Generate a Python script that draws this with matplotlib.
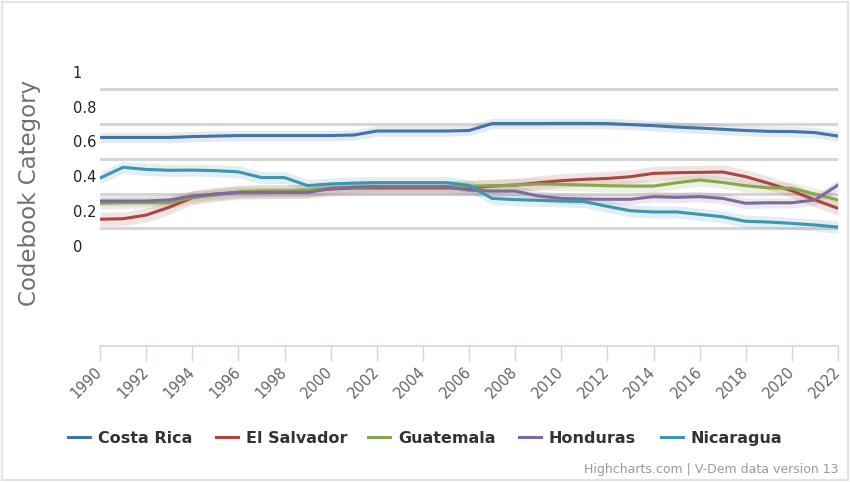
import matplotlib
matplotlib.use('Agg')
import matplotlib.pyplot as plt
import matplotlib.transforms as mtransforms
from matplotlib.patches import Rectangle
from matplotlib.lines import Line2D
import numpy as np

years = list(range(1990, 2023))

costa_rica = [0.723, 0.723, 0.723, 0.723, 0.728, 0.731, 0.734, 0.734, 0.734, 0.734,
              0.734, 0.737, 0.760, 0.760, 0.760, 0.760, 0.763, 0.803, 0.803, 0.803,
              0.804, 0.804, 0.803, 0.797, 0.791, 0.783, 0.777, 0.770, 0.763, 0.758,
              0.757, 0.751, 0.731]
el_salvador = [0.252, 0.255, 0.276, 0.321, 0.376, 0.397, 0.407, 0.410, 0.410, 0.414,
               0.426, 0.432, 0.432, 0.432, 0.432, 0.432, 0.432, 0.443, 0.449, 0.462,
               0.474, 0.482, 0.487, 0.497, 0.516, 0.520, 0.522, 0.524, 0.497, 0.459,
               0.416, 0.363, 0.315]
guatemala = [0.344, 0.347, 0.347, 0.347, 0.378, 0.391, 0.410, 0.416, 0.416, 0.420,
             0.432, 0.435, 0.439, 0.439, 0.439, 0.439, 0.443, 0.445, 0.449, 0.455,
             0.453, 0.449, 0.445, 0.443, 0.443, 0.462, 0.478, 0.464, 0.445, 0.433,
             0.430, 0.397, 0.363]
honduras = [0.357, 0.357, 0.357, 0.363, 0.386, 0.397, 0.405, 0.405, 0.406, 0.406,
            0.429, 0.437, 0.439, 0.439, 0.439, 0.439, 0.420, 0.414, 0.414, 0.386,
            0.372, 0.368, 0.367, 0.367, 0.382, 0.378, 0.382, 0.372, 0.344, 0.347,
            0.347, 0.363, 0.449]
nicaragua = [0.489, 0.551, 0.539, 0.534, 0.535, 0.532, 0.525, 0.492, 0.492, 0.446,
             0.455, 0.460, 0.463, 0.463, 0.463, 0.463, 0.447, 0.372, 0.365, 0.361,
             0.357, 0.354, 0.326, 0.301, 0.294, 0.294, 0.280, 0.266, 0.240, 0.236,
             0.228, 0.219, 0.207]

countries = ['Costa Rica', 'El Salvador', 'Guatemala', 'Honduras', 'Nicaragua']
series = [costa_rica, el_salvador, guatemala, honduras, nicaragua]
band_halfwidth = [0.03, 0.04, 0.035, 0.03, 0.035]
colors = ['#4572A7', '#AA4643', '#89A54E', '#80699B', '#3D96AE']

ytick_vals = [0, 0.2, 0.4, 0.6, 0.8, 1]
ytick_labels = ['0', '0.2', '0.4', '0.6', '0.8', '1']
xtick_vals = list(range(1990, 2023, 2))

plt.rcParams['font.family'] = ['DejaVu Sans']

fig = plt.figure(figsize=(8.5, 4.82), dpi=100)
ax = fig.add_axes([100 / 850, (482 - 346) / 482, 738 / 850, 274 / 482])

for name, vals, hw, c in zip(countries, series, band_halfwidth, colors):
    v = np.array(vals)
    ax.fill_between(years, v - hw, v + hw, color=c, alpha=0.15, linewidth=0)
    ax.plot(years, v, color=c, linewidth=2.2, label=name, solid_capstyle='round')

ax.set_xlim(1990, 2022)
ax.set_ylim(-0.478, 1.1)

# grid lines (no line at 0)
for g in ytick_vals[1:]:
    ax.axhline(g, color='#d6d6d6', linewidth=2.2, zorder=0)
ax.set_yticks([])

# y labels sit a bit above their grid lines, as in the original
offset = mtransforms.ScaledTranslation(0, 16 / 100, fig.dpi_scale_trans)
for val, lab in zip(ytick_vals, ytick_labels):
    ax.text(-0.037, val, lab, transform=ax.get_yaxis_transform() + offset,
            ha='left', va='center', fontsize=10.5, color='#222222')

ax.set_xticks(xtick_vals)
ax.set_xticklabels([str(x) for x in xtick_vals], rotation=45, ha='right',
                   va='center', rotation_mode='anchor', fontsize=10.5,
                   color='#666666')
ax.tick_params(axis='x', direction='out', length=11, width=1,
               color='#ccd6eb', pad=6)

for s in ['top', 'right', 'left']:
    ax.spines[s].set_visible(False)
ax.spines['bottom'].set_color('#ccd6eb')
ax.spines['bottom'].set_linewidth(1.2)

fig.text(30 / 850, 1 - 193 / 482, 'Codebook Category', rotation=90,
         ha='center', va='center', fontsize=16.5, color='#707070')

# legend drawn by hand so all labels share one baseline
legend_x = [68, 216, 368, 519, 661]
ly = 1 - 437 / 482
for name, c, x0 in zip(countries, colors, legend_x):
    fig.add_artist(Line2D([x0 / 850, (x0 + 22) / 850], [ly, ly], color=c,
                          linewidth=2.2, transform=fig.transFigure))
    fig.text((x0 + 30) / 850, ly, name, ha='left', va='center_baseline',
             fontsize=11.5, fontweight='bold', color='#333333')

fig.text(838 / 850, 1 - 469 / 482, 'Highcharts.com | V-Dem data version 13',
         ha='right', va='center', fontsize=9, color='#999999')

fig.patches.append(Rectangle((2 / 850, 2 / 482), 846 / 850, 478 / 482,
                             transform=fig.transFigure, fill=False,
                             edgecolor='#e3e3e3', linewidth=1.5))

fig.savefig('out.png', dpi=100)
